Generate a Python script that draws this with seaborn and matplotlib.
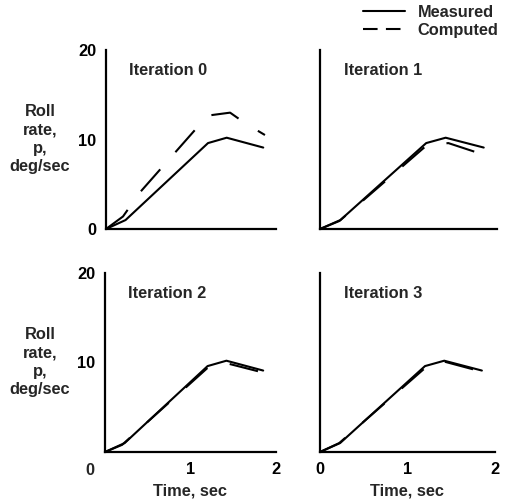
import matplotlib
matplotlib.use("Agg")
import matplotlib.pyplot as plt
from matplotlib.lines import Line2D
import seaborn as sns
import pandas as pd

sns.set_style("white")
plt.rcParams['font.family'] = ['Liberation Sans', 'DejaVu Sans']
plt.rcParams['font.weight'] = 'bold'

# ---- data ----
measured_t = [0, 0.23, 1.2, 1.42, 1.85]
measured_p = [0, 1.0, 9.6, 10.2, 9.1]

comp0_t = [0, 0.2, 0.4, 1.05, 1.22, 1.46, 1.64, 1.87]
comp0_p = [0, 1.4, 4.1, 11.1, 12.7, 13.0, 11.8, 10.5]
comp1_t = [0, 0.22, 1.2, 1.45, 1.85]
comp1_p = [0, 0.9, 9.3, 9.6, 8.3]
comp2_t = [0, 0.2, 1.2, 1.43, 1.84]
comp2_p = [0, 0.8, 9.4, 9.9, 8.9]
comp3_t = [0, 0.22, 1.22, 1.42, 1.84]
comp3_p = [0, 1.0, 9.55, 10.1, 9.0]

titles = ["Iteration 0", "Iteration 1", "Iteration 2", "Iteration 3"]
computed = [(comp0_t, comp0_p), (comp1_t, comp1_p), (comp2_t, comp2_p), (comp3_t, comp3_p)]
xticks = [0, 1, 2]
yticks = [0, 10, 20]
ylab = "Roll\nrate,\np,\ndeg/sec"
xlab = "Time, sec"

W, H = 506, 501
fig = plt.figure(figsize=(W / 100, H / 100), dpi=100)

# axes boxes in pixels: left, right, top, bottom
boxes = [(106, 276, 50, 229), (320, 497, 50, 229),
         (105, 276, 273, 452), (320, 495, 273, 452)]

DASH = (14, 11)
FS = 11.8

for i, (l, r, t, b) in enumerate(boxes):
    ax = fig.add_axes([l / W, 1 - b / H, (r - l) / W, (b - t) / H])
    ct, cp = computed[i]
    df = pd.concat([
        pd.DataFrame({"t": measured_t, "p": measured_p, "series": "Measured"}),
        pd.DataFrame({"t": ct, "p": cp, "series": "Computed"}),
    ], ignore_index=True)
    sns.lineplot(data=df, x="t", y="p", style="series",
                 dashes={"Measured": "", "Computed": DASH},
                 color="black", linewidth=1.5, legend=False, ax=ax,
                 estimator=None, sort=False)
    for ln in ax.lines:
        ln.set_clip_on(False)
    ax.set_xlim(0, 2)
    ax.set_ylim(0, 20)
    for s in ["top", "right"]:
        ax.spines[s].set_visible(False)
    for s in ["left", "bottom"]:
        ax.spines[s].set_linewidth(1.6)
        ax.spines[s].set_color("black")
    ax.set_yticks(yticks)
    ax.set_xticks(xticks)
    ax.tick_params(direction="in", length=13, width=1.4, colors="black",
                   labelsize=FS, pad=7)
    ax.set_xlabel("")
    ax.set_ylabel("")
    left = i % 2 == 0
    bottom = i >= 2
    if left:
        if bottom:
            ax.set_yticklabels(["", "10", "20"])
        else:
            ax.set_yticklabels(["0", "10", "20"])
    else:
        ax.set_yticklabels([])
    if bottom:
        if left:
            ax.set_xticklabels(["", "1", "2"])
            ax.annotate("0", xy=(0, 0), xycoords="data", xytext=(-11, -13.5),
                        textcoords="offset points", ha="center", va="center",
                        fontsize=FS, fontweight="bold")
        else:
            ax.set_xticklabels(["0", "1", "2"])
        ax.set_xlabel(xlab, fontsize=FS, fontweight="bold", labelpad=5)
    else:
        ax.set_xticklabels([])
    for lab in ax.get_xticklabels() + ax.get_yticklabels():
        lab.set_fontweight("bold")
    ax.text(0.135, 0.885, titles[i], transform=ax.transAxes, ha="left",
            va="center", fontsize=FS, fontweight="bold")

# y-axis labels for each row
fig.text(40 / W, 1 - 139 / H, ylab, ha="center", va="center", fontsize=FS,
         fontweight="bold", multialignment="center", linespacing=1.28)
fig.text(40 / W, 1 - 362 / H, ylab, ha="center", va="center", fontsize=FS,
         fontweight="bold", multialignment="center", linespacing=1.28)

handles = [Line2D([], [], color="black", lw=1.5, label="Measured"),
           Line2D([], [], color="black", lw=1.5, dashes=(7, 4), label="Computed")]
fig.legend(handles=handles, loc="upper right", bbox_to_anchor=(500 / W, 1 - 3 / H),
           frameon=False, handlelength=2.6, handletextpad=0.75,
           labelspacing=0.2, borderpad=0.1, borderaxespad=0,
           prop={"weight": "bold", "size": FS})

fig.savefig("out.png", dpi=100, facecolor="white")
